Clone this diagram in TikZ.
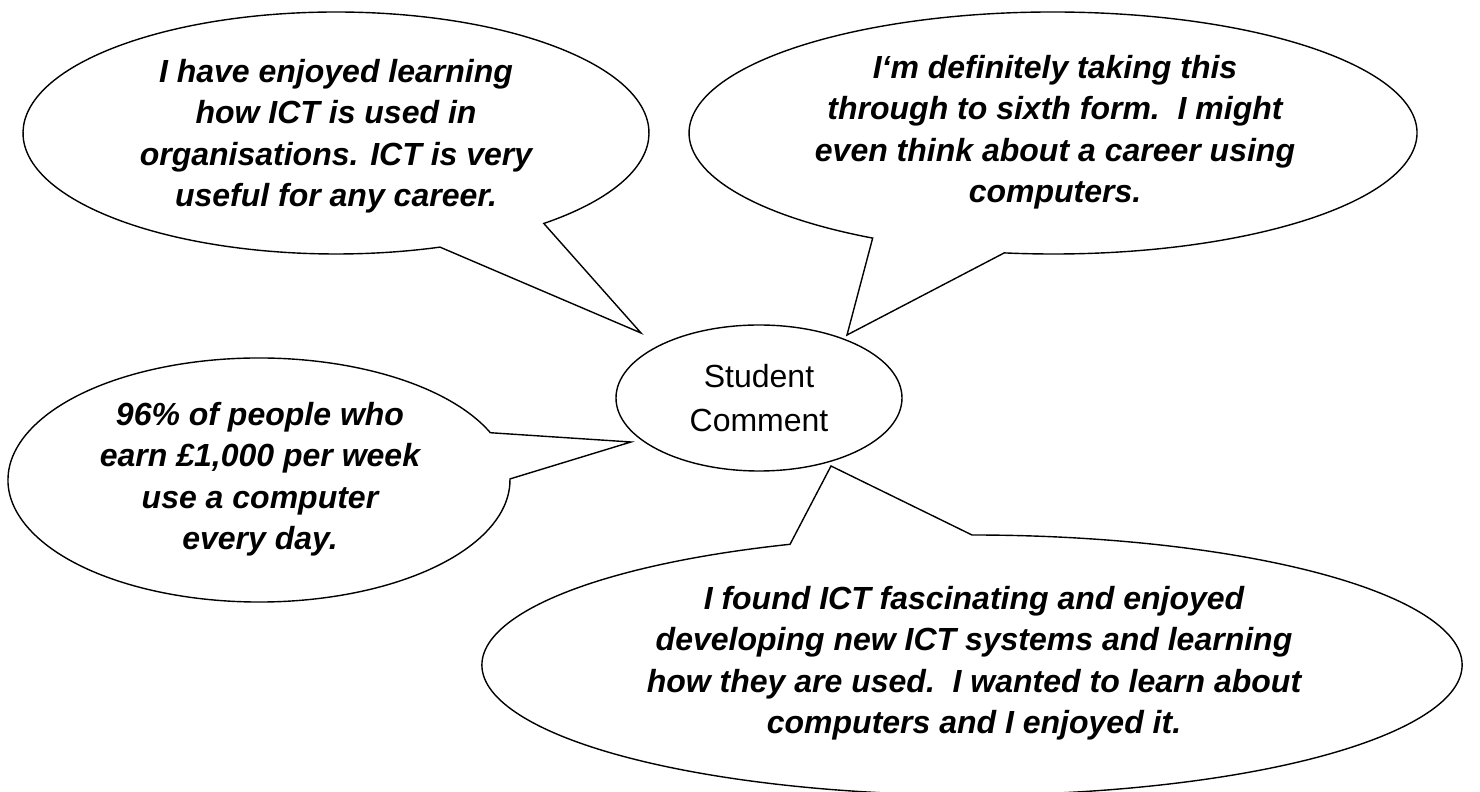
\documentclass[tikz,border=0pt]{standalone}
\usepackage{fontspec}
\setmainfont{Liberation Sans}
\usetikzlibrary{calc,shapes.geometric}
\begin{document}
\begin{tikzpicture}[x=1pt,y=1pt,
  bubble/.style={draw=black,line width=1.4pt,fill=white,line join=miter},
  say/.style={font=\fontsize{32}{41.5}\selectfont\bfseries\itshape,align=center,inner sep=0pt},
  hub/.style={ellipse,draw=black,line width=1.4pt,fill=white,minimum width=286pt,minimum height=146pt,inner sep=0pt,align=center,font=\fontsize{32}{44}\selectfont}]
\useasboundingbox (0,0) rectangle (1480,792);
\clip (0,0) rectangle (1480,792);
% hub
\node[hub] (hub) at (759,394) {Student\\Comment};
% tail tips
\coordinate (tltip) at (641,459);
\coordinate (trtip) at (847,457);
\coordinate (lmtip) at (631,350);
\coordinate (bttip) at (831,326);
% top-left bubble
\draw[bubble] ($(336,659)+(-48.4:313pt and 121pt)$) arc[start angle=-48.4,end angle=289.4,x radius=313pt,y radius=121pt] -- (tltip) -- cycle;
% top-right bubble
\draw[bubble] ($(1053,659)+(262.3:364pt and 121pt)$) arc[start angle=262.3,end angle=600.3,x radius=364pt,y radius=121pt] -- (trtip) -- cycle;
% left-middle bubble
\draw[bubble] ($(259,312)+(22.8:251pt and 122pt)$) arc[start angle=22.8,end angle=360.5,x radius=251pt,y radius=122pt] -- (lmtip) -- cycle;
% bottom bubble
\draw[bubble] ($(972,127)+(111.8:490pt and 130pt)$) arc[start angle=111.8,end angle=450,x radius=490pt,y radius=130pt] -- (bttip) -- cycle;
% texts
\node[say] (tltext) at (336,656) {I have enjoyed learning\\how ICT is used in\\organisations. ICT is very\\useful for any career.};
\node[say] (trtext) at (1055,660) {I‘m definitely taking this\\through to sixth form.\ \ I might\\even think about a career using\\computers.};
\node[say] (lmtext) at (260,313) {96\% of people who\\earn £1,000 per week\\use a computer\\every day.};
\node[say] (bttext) at (974,129) {I found ICT fascinating and enjoyed\\developing new ICT systems and learning\\how they are used.\ \ I wanted to learn about\\computers and I enjoyed it.};
\end{tikzpicture}
\end{document}
